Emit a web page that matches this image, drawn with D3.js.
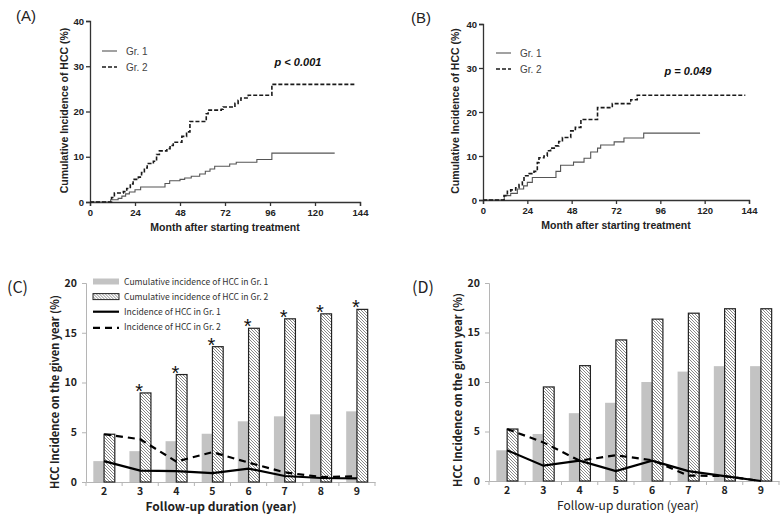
<!DOCTYPE html>
<html>
<head>
<meta charset="utf-8">
<script src="https://cdn.jsdelivr.net/npm/d3@7"></script>
<style>
  body { margin: 0; background: #fff; }
</style>
</head>
<body>
<div id="chart"></div>
<script>
// ---- data ----
// Kaplan-Meier style cumulative incidence, [month, %]
var kmA_gr1 = [[0,0],[11,0.5],[15,0.8],[17,1.3],[19,1.8],[21,2.2],[24,2.7],[27,3.3],[40,4.1],[42.5,4.7],[48,5.0],[50.5,5.3],[54,5.7],[58.5,6.2],[61.5,6.8],[64,7.3],[66.5,7.9],[74.5,8.4],[78,8.8],[89,9.4],[97,10.8],[130.5,10.8]];
var kmA_gr2 = [[0,0],[11.5,1.0],[13,2.0],[17.8,2.3],[19.6,3.0],[21.5,4.0],[23,5.0],[25.8,5.5],[27.5,6.5],[29,7.5],[30.5,8.5],[33.8,9.0],[35.5,10.5],[37,11.3],[41,11.8],[42.7,12.5],[44.4,13.2],[49,14.5],[51.5,15.5],[53.3,17.8],[62,19.5],[63,20.3],[70,20.5],[71,21.0],[77.3,21.8],[79,22.5],[80.5,23.0],[84.4,23.6],[97,26.0],[142,26.0]];
var kmB_gr1 = [[0,0],[11.5,1.0],[15,1.5],[18.6,2.5],[22,3.2],[24,4.0],[26.7,5.1],[39.5,6.5],[42,7.9],[49,8.6],[54.7,9.5],[58.3,10.9],[62,11.8],[63.7,12.5],[71,13.2],[76.3,14.1],[87,15.2],[117.5,15.2]];
var kmB_gr2 = [[0,0],[11.4,1.0],[13.2,2.0],[15,2.3],[17.7,2.8],[19.5,3.5],[21.3,4.5],[22.2,5.5],[25,6.0],[27.6,6.5],[29.4,8.5],[30.3,9.6],[33,10.0],[34.8,11.2],[36.6,11.8],[39.3,12.3],[41,13.3],[43,14.2],[47.5,15.7],[50,16.5],[53,18.3],[62,21.0],[70,21.9],[80,22.8],[83.5,23.8],[142,23.8]];
var monthTicks = [0, 24, 48, 72, 96, 120, 144];
var pctTicks = [0, 10, 20, 30, 40];

// follow-up year panels
var years = [2, 3, 4, 5, 6, 7, 8, 9];
var yearTicks = [0, 5, 10, 15, 20];
var cumC_gr1 = [2.1, 3.1, 4.1, 4.85, 6.1, 6.6, 6.8, 7.1];
var cumC_gr2 = [4.8, 8.95, 10.8, 13.6, 15.45, 16.4, 16.9, 17.35];
var incC_gr1 = [2.1, 1.15, 1.1, 0.9, 1.35, 0.6, 0.4, 0.37];
var incC_gr2 = [4.8, 4.3, 2.05, 3.0, 1.95, 0.97, 0.5, 0.57];
var starC = [false, true, true, true, true, true, true, true];
var cumD_gr1 = [3.1, 4.75, 6.85, 7.9, 10.0, 11.05, 11.6, 11.6];
var cumD_gr2 = [5.25, 9.5, 11.65, 14.25, 16.35, 16.95, 17.4, 17.4];
var incD_gr1 = [3.1, 1.55, 2.05, 1.0, 2.05, 1.0, 0.5, 0.0];
var incD_gr2 = [5.25, 3.9, 2.05, 2.6, 2.1, 0.55, 0.5, 0.0];
var legendC = ["Cumulative incidence of HCC in Gr. 1", "Cumulative incidence of HCC in Gr. 2",
               "Incidence of HCC in Gr. 1", "Incidence of HCC in Gr. 2"];

var svg = d3.select("#chart").append("svg")
    .attr("width", 782)
    .attr("height", 519)
    .style("font-family", "'Liberation Sans', Arial, sans-serif");

var defs = svg.append("defs");
var pat = defs.append("pattern")
    .attr("id", "hatch")
    .attr("patternUnits", "userSpaceOnUse")
    .attr("width", 3).attr("height", 3);
pat.append("rect").attr("width", 3).attr("height", 3).attr("fill", "#fff");
pat.append("path")
    .attr("d", "M-1,-1 L4,4 M-1,2 L1,4 M2,-1 L4,1")
    .attr("stroke", "#7a7a7a")
    .attr("stroke-width", 0.9);

// ---- KM panels (A), (B) ----
function kmPanel(opt) {
  var x = d3.scaleLinear().domain([0, 144]).range([opt.x0, opt.x1]);
  var y = d3.scaleLinear().domain([0, 40]).range([opt.y0, opt.y1]);
  var g = svg.append("g");

  var xa = g.append("g")
      .attr("transform", "translate(0," + opt.y0 + ")")
      .call(d3.axisBottom(x).tickValues(monthTicks).tickSize(4).tickPadding(3));
  var ya = g.append("g")
      .attr("transform", "translate(" + opt.x0 + ",0)")
      .call(d3.axisLeft(y).tickValues(pctTicks).tickSize(4).tickPadding(2));
  [xa, ya].forEach(function(a) {
    a.select(".domain").attr("stroke", "#333").attr("stroke-width", 1.3);
    a.selectAll(".tick line").attr("stroke", "#333").attr("stroke-width", 1.3);
    a.selectAll(".tick text").attr("fill", "#222")
      .style("font-size", "9.5px").style("font-weight", "bold")
      .style("font-family", "'Liberation Sans', Arial, sans-serif");
  });

  var line = d3.line()
      .x(function(d) { return x(d[0]); })
      .y(function(d) { return y(d[1]); })
      .curve(d3.curveStepAfter);

  g.append("path").datum(opt.gr1)
      .attr("d", line).attr("fill", "none")
      .attr("stroke", "#555").attr("stroke-width", 1.1);
  g.append("path").datum(opt.gr2)
      .attr("d", line).attr("fill", "none")
      .attr("stroke", "#1a1a1a").attr("stroke-width", 1.6)
      .attr("stroke-dasharray", "4,2");

  // legend
  g.append("line").attr("x1", opt.lx).attr("x2", opt.lx + 15)
      .attr("y1", opt.ly).attr("y2", opt.ly)
      .attr("stroke", "#555").attr("stroke-width", 1.1);
  g.append("line").attr("x1", opt.lx).attr("x2", opt.lx + 15)
      .attr("y1", opt.ly + 16).attr("y2", opt.ly + 16)
      .attr("stroke", "#1a1a1a").attr("stroke-width", 1.6)
      .attr("stroke-dasharray", "4,2");
  g.append("text").attr("x", opt.lx + 24).attr("y", opt.ly + 3.5)
      .attr("fill", "#444").style("font-size", "10px").text("Gr. 1");
  g.append("text").attr("x", opt.lx + 24).attr("y", opt.ly + 19.5)
      .attr("fill", "#444").style("font-size", "10px").text("Gr. 2");

  g.append("text").attr("x", opt.px).attr("y", opt.py)
      .attr("text-anchor", "middle")
      .style("font-size", "11px").style("font-weight", "bold").style("font-style", "italic")
      .attr("fill", "#111").text(opt.ptext);

  g.append("text")
      .attr("transform", "translate(" + opt.ytx + "," + ((opt.y0 + opt.y1) / 2 - 1) + ") rotate(-90)")
      .attr("text-anchor", "middle")
      .style("font-size", "10.5px").style("font-weight", "bold")
      .attr("fill", "#222").text("Cumulative Incidence of HCC (%)");
  g.append("text")
      .attr("x", (opt.x0 + opt.x1) / 2).attr("y", opt.y0 + 29)
      .attr("text-anchor", "middle")
      .style("font-size", "10.5px").style("font-weight", "bold")
      .attr("fill", "#222").text("Month after starting treatment");

  svg.append("text").attr("x", opt.labx).attr("y", opt.laby)
      .style("font-size", "15px").attr("fill", "#222").text(opt.label);
}

kmPanel({x0: 90, x1: 360, y0: 202, y1: 21, gr1: kmA_gr1, gr2: kmA_gr2,
  lx: 102, ly: 51, px: 298, py: 66, ptext: "p < 0.001", ytx: 68, labx: 16, laby: 21, label: "(A)"});
kmPanel({x0: 483, x1: 749, y0: 200, y1: 24, gr1: kmB_gr1, gr2: kmB_gr2,
  lx: 496, ly: 53, px: 688, py: 75, ptext: "p = 0.049", ytx: 459, labx: 411, laby: 23, label: "(B)"});

// ---- bar + line panels (C), (D) ----
var kfont = "'Noto Sans CJK KR', 'Noto Sans', sans-serif";

function yearPanel(opt) {
  var x0 = d3.scaleBand().domain(years).range([opt.x0, opt.x1]).paddingInner(0).paddingOuter(0);
  var x1 = d3.scaleBand().domain(["g1", "g2"]).range([0, x0.bandwidth()]).paddingInner(0).paddingOuter(0.68);
  var y = d3.scaleLinear().domain([0, 20]).range([opt.y0, opt.y1]);
  var g = svg.append("g");

  var xa = g.append("g")
      .attr("transform", "translate(0," + opt.y0 + ")")
      .call(d3.axisBottom(x0).tickSize(0).tickPadding(6));
  // tick marks between categories
  xa.selectAll(".sep").data(d3.range(years.length + 1)).enter().append("line")
      .attr("x1", function(i) { return opt.x0 + i * x0.step(); })
      .attr("x2", function(i) { return opt.x0 + i * x0.step(); })
      .attr("y1", 0).attr("y2", 4).attr("stroke", "#b5b5b5");
  var ya = g.append("g")
      .attr("transform", "translate(" + opt.x0 + ",0)")
      .call(d3.axisLeft(y).tickValues(yearTicks).tickSize(4).tickPadding(5));
  [xa, ya].forEach(function(a) {
    a.select(".domain").attr("stroke", "#b5b5b5");
    a.selectAll(".tick line").attr("stroke", "#b5b5b5");
    a.selectAll(".tick text").attr("fill", "#222")
      .style("font-size", "10.5px").style("font-weight", "bold").style("font-family", kfont);
  });

  var rows = years.map(function(yr, i) {
    return {year: yr, c1: opt.cum1[i], c2: opt.cum2[i], i1: opt.inc1[i], i2: opt.inc2[i], star: opt.star ? opt.star[i] : false};
  });

  g.selectAll(".b1").data(rows).enter().append("rect")
      .attr("x", function(d) { return x0(d.year) + x1("g1"); })
      .attr("y", function(d) { return y(d.c1); })
      .attr("width", x1.bandwidth())
      .attr("height", function(d) { return opt.y0 - y(d.c1); })
      .attr("fill", "#c3c3c3");
  g.selectAll(".b2").data(rows).enter().append("rect")
      .attr("x", function(d) { return x0(d.year) + x1("g2"); })
      .attr("y", function(d) { return y(d.c2); })
      .attr("width", x1.bandwidth())
      .attr("height", function(d) { return opt.y0 - y(d.c2); })
      .attr("fill", "url(#hatch)")
      .attr("stroke", "#222").attr("stroke-width", 1.2);

  var cx = function(d) { return x0(d.year) + x0.bandwidth() / 2; };
  g.append("path").datum(rows)
      .attr("d", d3.line().x(cx).y(function(d) { return y(d.i2); }))
      .attr("fill", "none").attr("stroke", "#000").attr("stroke-width", 2.2)
      .attr("stroke-dasharray", "7,5");
  g.append("path").datum(rows)
      .attr("d", d3.line().x(cx).y(function(d) { return y(d.i1); }))
      .attr("fill", "none").attr("stroke", "#000").attr("stroke-width", 2.2);

  g.selectAll(".star").data(rows.filter(function(d) { return d.star; })).enter().append("text")
      .attr("x", function(d) { return cx(d) - 1; })
      .attr("y", function(d) { return y(d.c2) + 5; })
      .attr("text-anchor", "middle")
      .style("font-size", "20px").style("font-family", "'Liberation Sans', Arial, sans-serif")
      .attr("fill", "#111").text("*");

  g.append("text")
      .attr("transform", "translate(" + opt.ytx + "," + opt.ytc + ") rotate(-90)")
      .attr("text-anchor", "middle")
      .style("font-size", "11px").style("font-weight", "bold").style("font-family", kfont)
      .attr("fill", "#222").text("HCC Incidence on the given year (%)");
  g.append("text")
      .attr("x", opt.xtc).attr("y", opt.y0 + 29)
      .attr("text-anchor", "middle")
      .style("font-size", "12px").style("font-weight", opt.xtw).style("font-family", kfont)
      .attr("fill", "#222").text("Follow-up duration (year)");

  svg.append("text").attr("x", opt.labx).attr("y", opt.laby)
      .style("font-size", "16px").style("font-family", kfont).attr("fill", "#222").text(opt.label);

  if (opt.legend) {
    var lg = g.append("g").attr("transform", "translate(93,281.5)");
    var items = lg.selectAll("g").data(legendC).enter().append("g")
        .attr("transform", function(d, i) { return "translate(0," + (i * 15.1) + ")"; });
    items.each(function(d, i) {
      var it = d3.select(this);
      if (i === 0) it.append("rect").attr("x", 0).attr("y", -3).attr("width", 26).attr("height", 6).attr("fill", "#c3c3c3");
      if (i === 1) it.append("rect").attr("x", 0).attr("y", -3).attr("width", 26).attr("height", 6)
          .attr("fill", "url(#hatch)").attr("stroke", "#222").attr("stroke-width", 1);
      if (i === 2) it.append("line").attr("x1", 0).attr("x2", 26).attr("y1", 0).attr("y2", 0)
          .attr("stroke", "#000").attr("stroke-width", 2.2);
      if (i === 3) it.append("line").attr("x1", 0).attr("x2", 26).attr("y1", 1).attr("y2", 1)
          .attr("stroke", "#000").attr("stroke-width", 2.2).attr("stroke-dasharray", "7,5");
      it.append("text").attr("x", 31).attr("y", 3.2)
          .style("font-size", "8.6px").style("font-family", kfont)
          .attr("fill", "#333").text(d);
    });
  }
}

yearPanel({x0: 86, x1: 375, y0: 482, y1: 283, cum1: cumC_gr1, cum2: cumC_gr2, inc1: incC_gr1, inc2: incC_gr2,
  star: starC, legend: true, ytx: 59, ytc: 392, xtc: 221, xtw: "bold", labx: 7, laby: 293, label: "(C)"});
yearPanel({x0: 489, x1: 779, y0: 481, y1: 283, cum1: cumD_gr1, cum2: cumD_gr2, inc1: incD_gr1, inc2: incD_gr2,
  star: null, legend: false, ytx: 462, ytc: 390, xtc: 628, xtw: "normal", labx: 412, laby: 293, label: "(D)"});
</script>
</body>
</html>
